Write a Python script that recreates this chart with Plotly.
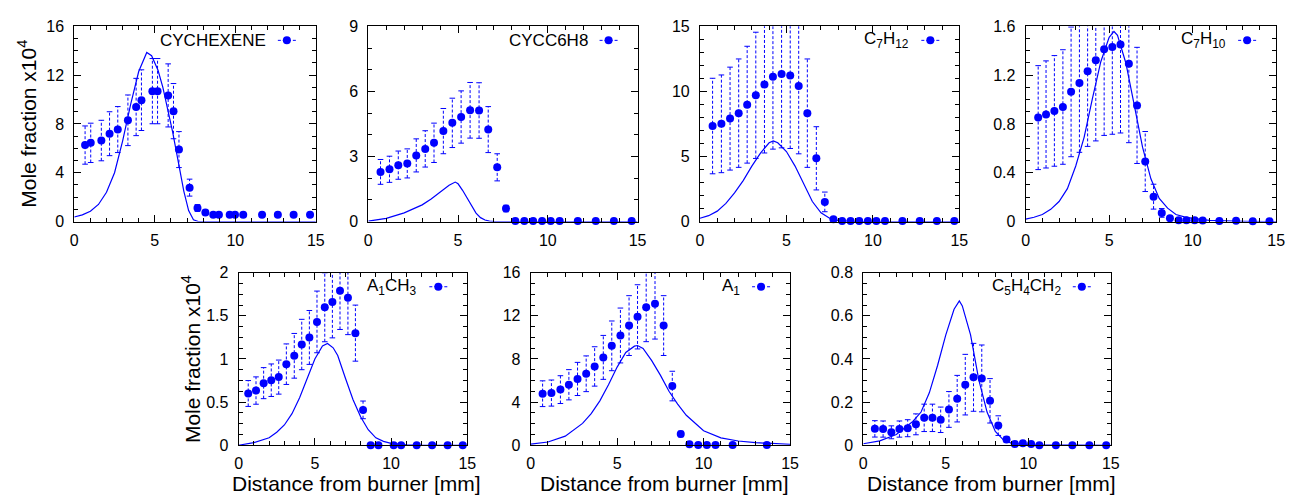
import plotly.graph_objects as go

W, H = 1298, 504

# ---------------- data ----------------
# CYCHEXENE
cyc_x = [0.67, 1.02, 1.68, 2.19, 2.70, 3.33, 3.84, 4.17, 4.85, 5.17, 5.83, 6.16, 6.50, 7.16, 7.65,
         8.14, 8.63, 8.98, 9.65, 9.98, 10.49, 11.66, 12.64, 13.62, 14.64]
cyc_y = [6.27, 6.45, 6.64, 7.2, 7.54, 8.3, 9.39, 9.95, 10.69, 10.69, 10.34, 9.05, 5.9, 2.78, 1.11,
         0.74, 0.56, 0.56, 0.56, 0.56, 0.56, 0.56, 0.56, 0.56, 0.56]
cyc_err = 0.25
cyc_mx = [0, 0.5, 1, 1.5, 2, 2.5, 3, 3.5, 4, 4.5, 4.8, 5.2, 5.5, 5.8, 6.1, 6.5, 6.8, 7.1, 7.4, 7.7, 15]
cyc_my = [0.37, 0.55, 0.85, 1.4, 2.4, 4.0, 6.6, 9.6, 12.3, 13.86, 13.6, 12.4, 11.0, 9.3, 7.4, 4.6, 2.5,
          0.9, 0.15, 0, 0]

# CYCC6H8
c6h8_x = [0.68, 1.18, 1.67, 2.17, 2.67, 3.17, 3.66, 4.18, 4.68, 5.17, 5.67, 6.17, 6.68, 7.18, 7.67,
          8.19, 8.69, 9.18, 9.68, 10.16, 10.66, 11.67, 12.67, 13.68, 14.67]
c6h8_y = [2.29, 2.41, 2.60, 2.68, 3.05, 3.35, 3.63, 4.17, 4.55, 4.82, 5.13, 5.12, 4.24, 2.50, 0.60,
          0.03, 0.03, 0.03, 0.03, 0.03, 0.03, 0.03, 0.03, 0.03, 0.03]
c6h8_err = 0.25
c6h8_mx = [0, 1, 2, 2.5, 3, 3.5, 4, 4.5, 4.84, 5.0, 5.25, 5.5, 5.75, 6.0, 6.25, 6.5, 6.75, 7.0, 15]
c6h8_my = [0.02, 0.15, 0.4, 0.57, 0.77, 1.04, 1.34, 1.67, 1.82, 1.74, 1.44, 1.07, 0.7, 0.39, 0.18,
           0.07, 0.02, 0, 0]

# C7H12
c7h12_x = [0.73, 1.24, 1.74, 2.24, 2.73, 3.23, 3.73, 4.22, 4.72, 5.22, 5.71, 6.21, 6.73, 7.22, 7.72,
           8.22, 8.71, 9.21, 9.71, 10.2, 10.7, 11.71, 12.71, 13.70, 14.71]
c7h12_y = [7.34, 7.51, 7.91, 8.33, 8.98, 9.70, 10.54, 11.13, 11.33, 11.23, 10.41, 8.33, 4.86, 1.51,
           0.17, 0.05, 0.05, 0.05, 0.05, 0.05, 0.05, 0.05, 0.05, 0.05, 0.05]
c7h12_err = 0.5
c7h12_mx = [0, 0.5, 1, 1.5, 2, 2.5, 3, 3.5, 4, 4.24, 4.5, 5, 5.5, 6, 6.5, 7, 7.5, 8, 8.5, 9, 15]
c7h12_my = [0.25, 0.45, 0.8, 1.4, 2.2, 3.15, 4.26, 5.26, 6.05, 6.2, 6.05, 5.38, 4.26, 2.9, 1.54, 0.67,
            0.25, 0.07, 0.02, 0, 0]

# C7H10
c7h10_x = [0.75, 1.22, 1.72, 2.23, 2.72, 3.22, 3.71, 4.20, 4.70, 5.19, 5.68, 6.18, 6.67, 7.16, 7.66,
           8.15, 8.64, 9.16, 9.63, 10.12, 10.6, 11.6, 12.6, 13.6, 14.6]
c7h10_y = [0.852, 0.878, 0.907, 0.939, 1.063, 1.135, 1.232, 1.322, 1.412, 1.431, 1.452, 1.293, 0.952,
           0.492, 0.204, 0.071, 0.026, 0.010, 0.010, 0.010, 0.008, 0.005, 0.006, 0.003, 0.003]
c7h10_err = 0.5
c7h10_mx = [0, 0.5, 1, 1.5, 2, 2.5, 3, 3.5, 4, 4.5, 5, 5.29, 5.5, 6, 6.5, 7, 7.5, 8, 8.5, 9, 9.5, 10,
            11, 12, 13, 15]
c7h10_my = [0.02, 0.035, 0.058, 0.1, 0.164, 0.27, 0.455, 0.69, 1.01, 1.31, 1.51, 1.558, 1.526, 1.30,
            0.957, 0.61, 0.35, 0.19, 0.11, 0.058, 0.038, 0.026, 0.01, 0.005, 0.002, 0]

# A1CH3
a1ch3_x = [0.63, 1.14, 1.64, 2.14, 2.63, 3.13, 3.65, 4.14, 4.64, 5.14, 5.65, 6.15, 6.65, 7.17, 7.66,
           8.16, 8.66, 9.17, 10.17, 10.66, 11.68, 12.69, 13.71, 14.70]
a1ch3_y = [0.60, 0.634, 0.72, 0.754, 0.79, 0.94, 1.037, 1.168, 1.25, 1.43, 1.60, 1.66, 1.79, 1.71,
           1.30, 0.41, 0.0, 0.0, 0.0, 0.0, 0.0, 0.0, 0.0, 0.0]
a1ch3_err = 0.25
a1ch3_mx = [0, 1, 2, 2.5, 3, 3.5, 4, 4.5, 5, 5.5, 5.83, 6.2, 6.5, 7, 7.5, 8, 8.5, 9, 9.5, 10, 11, 12, 15]
a1ch3_my = [0.0, 0.03, 0.086, 0.15, 0.235, 0.366, 0.55, 0.78, 1.0, 1.15, 1.18, 1.13, 1.04, 0.78, 0.53,
            0.33, 0.18, 0.086, 0.045, 0.022, 0.005, 0, 0]

# A1
a1_x = [0.69, 1.20, 1.72, 2.21, 2.71, 3.21, 3.70, 4.20, 4.69, 5.19, 5.69, 6.18, 6.68, 7.19, 7.69,
        8.19, 8.68, 9.18, 9.69, 10.19, 10.69, 11.68, 13.66]
a1_y = [4.78, 4.84, 5.16, 5.61, 6.15, 6.63, 7.31, 8.15, 9.22, 10.18, 11.10, 11.91, 12.81, 13.13, 11.10,
        5.49, 1.04, 0.09, 0.02, 0.02, 0.02, 0.02, 0.02]
a1_err = 0.25
a1_mx = [0, 1, 2, 3, 3.5, 4, 4.5, 5, 5.5, 6, 6.18, 6.5, 7, 7.5, 8, 8.5, 9, 10, 11, 12, 13, 14, 15]
a1_my = [0.1, 0.3, 0.84, 2.03, 2.93, 4.12, 5.61, 7.25, 8.6, 9.19, 9.25, 8.98, 7.85, 6.5, 5.01, 3.82,
         2.78, 1.34, 0.69, 0.39, 0.24, 0.15, 0.09]

# C5H4CH2
fulv_x = [0.70, 1.20, 1.70, 2.19, 2.69, 3.19, 3.69, 4.19, 4.69, 5.19, 5.69, 6.18, 6.68, 7.18, 7.68,
          8.18, 8.68, 9.18, 9.67, 10.17, 10.67, 11.67, 12.67, 13.70, 14.72]
fulv_y = [0.076, 0.075, 0.060, 0.075, 0.079, 0.097, 0.127, 0.127, 0.118, 0.166, 0.216, 0.281, 0.315,
          0.310, 0.206, 0.091, 0.027, 0.006, 0.009, 0.006, 0.0, 0.0, 0.0, 0.0, 0.0]
fulv_err = 0.5
fulv_mx = [0, 1, 2, 3, 3.5, 4, 4.5, 5, 5.5, 5.82, 6, 6.5, 7, 7.5, 8, 8.5, 9, 10, 15]
fulv_my = [0.007, 0.02, 0.05, 0.11, 0.154, 0.243, 0.37, 0.512, 0.631, 0.669, 0.646, 0.512, 0.303,
           0.154, 0.064, 0.024, 0.009, 0.002, 0]

labels = ["CYCHEXENE", "CYCC6H8", "C<sub>7</sub>H<sub>12</sub>", "C<sub>7</sub>H<sub>10</sub>",
          "A<sub>1</sub>CH<sub>3</sub>", "A<sub>1</sub>", "C<sub>5</sub>H<sub>4</sub>CH<sub>2</sub>"]
y_max = [16, 9, 15, 1.6, 2, 16, 0.8]
y_dtick = [4, 3, 5, 0.4, 0.5, 4, 0.2]
y_minor = [1, 1, 1, 0.1, 0.125, 1, 0.05]

series = [
    (cyc_x, cyc_y, cyc_err, cyc_mx, cyc_my),
    (c6h8_x, c6h8_y, c6h8_err, c6h8_mx, c6h8_my),
    (c7h12_x, c7h12_y, c7h12_err, c7h12_mx, c7h12_my),
    (c7h10_x, c7h10_y, c7h10_err, c7h10_mx, c7h10_my),
    (a1ch3_x, a1ch3_y, a1ch3_err, a1ch3_mx, a1ch3_my),
    (a1_x, a1_y, a1_err, a1_mx, a1_my),
    (fulv_x, fulv_y, fulv_err, fulv_mx, fulv_my),
]

# panel boxes in pixels (left, right, top, bottom)
boxes = [
    (71, 315, 19, 221),
    (368, 640, 19, 221),
    (703, 965, 19, 221),
    (1032, 1285, 19, 221),
    (237, 468, 274, 452.5),
    (532, 794, 274, 452.5),
    (868, 1118, 274, 452.5),
]

BLUE = "#0000ff"
FONT = "Liberation Sans, Arial, Helvetica, sans-serif"

fig = go.Figure()
layout = dict(
    width=W, height=H,
    margin=dict(l=0, r=0, t=0, b=0),
    paper_bgcolor="white", plot_bgcolor="white",
    showlegend=False,
    font=dict(family=FONT, size=16, color="black"),
    annotations=[], shapes=[],
)

for i, ((xs, ys, rel, mx, my), box) in enumerate(zip(series, boxes)):
    n = i + 1
    xa = "x" if n == 1 else f"x{n}"
    ya = "y" if n == 1 else f"y{n}"
    xk = "xaxis" if n == 1 else f"xaxis{n}"
    yk = "yaxis" if n == 1 else f"yaxis{n}"
    l, r, t, b = box

    # model curve
    fig.add_trace(go.Scatter(x=mx, y=my, mode="lines", line=dict(color=BLUE, width=1.2),
                             xaxis=xa, yaxis=ya, hoverinfo="skip"))
    # dashed error bars
    ex, ey, cx, cy = [], [], [], []
    for xv, yv in zip(xs, ys):
        lo, hi = yv * (1 - rel), yv * (1 + rel)
        ex += [xv, xv, None]
        ey += [lo, hi, None]
        cx += [xv, xv]
        cy += [lo, hi]
    fig.add_trace(go.Scatter(x=ex, y=ey, mode="lines",
                             line=dict(color=BLUE, width=1, dash="3px,2px"),
                             xaxis=xa, yaxis=ya, hoverinfo="skip"))
    fig.add_trace(go.Scatter(x=cx, y=cy, mode="markers",
                             marker=dict(symbol="line-ew", size=4, line=dict(color=BLUE, width=1)),
                             xaxis=xa, yaxis=ya, hoverinfo="skip", cliponaxis=True))
    # data points
    fig.add_trace(go.Scatter(x=xs, y=ys, mode="markers",
                             marker=dict(color=BLUE, size=8, line=dict(width=0)),
                             xaxis=xa, yaxis=ya, cliponaxis=False))

    layout[xk] = dict(
        domain=[l / W, r / W], anchor=ya, range=[0, 15], dtick=5, tick0=0,
        showline=True, linecolor="black", linewidth=1, mirror="ticks",
        ticks="inside", ticklen=7, tickwidth=1, tickcolor="black",
        minor=dict(ticks="inside", dtick=1, ticklen=4, tickcolor="black", tickwidth=1),
        showgrid=False, zeroline=False, tickfont=dict(size=16), ticklabelstandoff=4,
    )
    layout[yk] = dict(
        domain=[1 - b / H, 1 - t / H], anchor=xa, range=[0, y_max[i]], dtick=y_dtick[i], tick0=0,
        showline=True, linecolor="black", linewidth=1, mirror="ticks",
        ticks="inside", ticklen=7, tickwidth=1, tickcolor="black",
        minor=dict(ticks="inside", dtick=y_minor[i], ticklen=4, tickcolor="black", tickwidth=1),
        showgrid=False, zeroline=False, tickfont=dict(size=16), ticklabelstandoff=6,
    )

    # legend (gnuplot style key: text then symbol)
    layout["annotations"].append(dict(
        text=labels[i], xref=f"{xa} domain", yref=f"{ya} domain", x=1, y=1,
        xanchor="right", yanchor="middle", xshift=-48, yshift=-14, showarrow=False,
        font=dict(size=17, color="black")))
    layout["shapes"].append(dict(
        type="line", xref=f"{xa} domain", yref=f"{ya} domain", xsizemode="pixel", ysizemode="pixel",
        xanchor=1, yanchor=1, x0=-38, x1=-20, y0=-14, y1=-14,
        line=dict(color=BLUE, width=1, dash="3px,2px")))
    layout["shapes"].append(dict(
        type="circle", xref=f"{xa} domain", yref=f"{ya} domain", xsizemode="pixel", ysizemode="pixel",
        xanchor=1, yanchor=1, x0=-33, x1=-25, y0=-18, y1=-10,
        fillcolor=BLUE, line=dict(color=BLUE, width=0)))

    # axis titles
    if n in (1, 5):
        layout["annotations"].append(dict(
            text="Mole fraction x10<sup>4</sup>", xref="paper", yref=f"{ya} domain",
            x=(l - 48) / W, y=0.5, xanchor="center", yanchor="middle", textangle=-90,
            showarrow=False, font=dict(size=21, color="black")))
    if n >= 5:
        layout["annotations"].append(dict(
            text="Distance from burner [mm]", xref=f"{xa} domain", yref="paper",
            x=0.5, y=1 - 492 / H, xshift=4, xanchor="center", yanchor="middle",
            showarrow=False, font=dict(size=21, color="black")))

fig.update_layout(**layout)
fig.write_html("out.html")
